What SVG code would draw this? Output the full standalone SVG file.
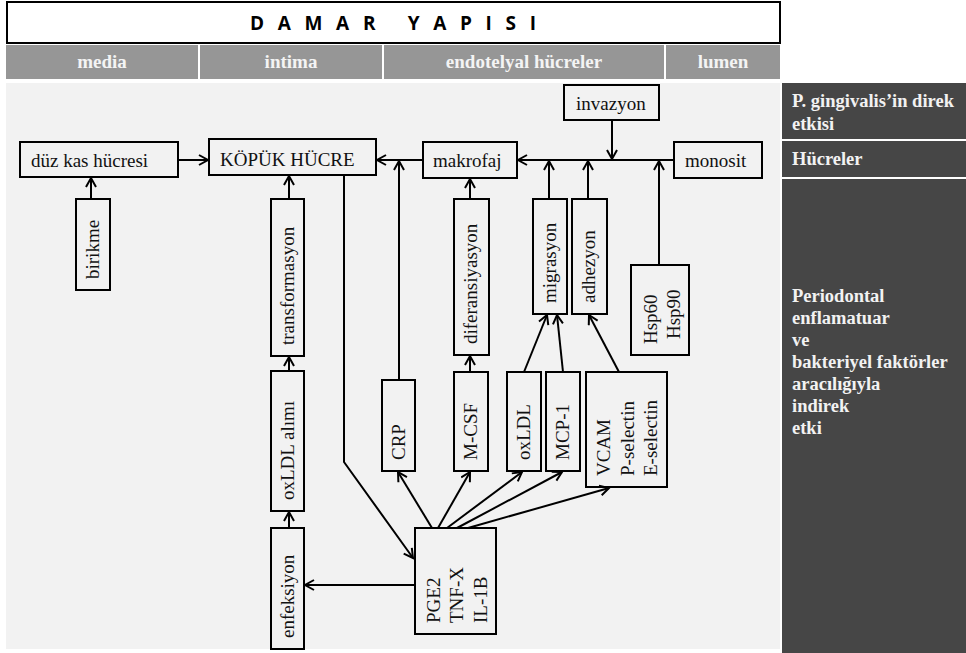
<svg xmlns="http://www.w3.org/2000/svg" width="966" height="653" viewBox="0 0 966 653">
<defs>
<marker id="ah" markerUnits="userSpaceOnUse" markerWidth="14" markerHeight="14" refX="10" refY="6" orient="auto">
<path d="M1,1 L10,6 L1,11" fill="none" stroke="#000" stroke-width="2"/>
</marker>
</defs>
<style>
.box{fill:none;stroke:#000;stroke-width:2}
.lbl{font-family:"Liberation Serif","Times New Roman",serif;font-size:19px;fill:#111}
.hdr{font-family:"Liberation Serif","Times New Roman",serif;font-size:19px;font-weight:bold;fill:#f4f4f4;text-anchor:middle}
.side{font-family:"Liberation Serif","Times New Roman",serif;font-size:18.5px;font-weight:bold;fill:#f2f2f2}
.conn line,.conn polyline{stroke:#000;stroke-width:2;fill:none}
.arr{marker-end:url(#ah)}
</style>
<rect width="966" height="653" fill="#fff"/>
<g id="title">
<rect x="7" y="2" width="773" height="41" fill="#fff" stroke="#000" stroke-width="2"/>
<text x="393" y="30" text-anchor="middle" textLength="286" lengthAdjust="spacing" style="font-family:'Open Sans',sans-serif;font-size:19px;font-weight:bold;white-space:pre" fill="#000">D A M A R   Y A P I S I</text>
</g>
<g id="header">
<rect x="6" y="45" width="192" height="34" fill="#969696"/>
<rect x="200" y="45" width="182" height="34" fill="#969696"/>
<rect x="384" y="45" width="280" height="34" fill="#969696"/>
<rect x="666" y="45" width="114" height="34" fill="#969696"/>
<text class="hdr" x="102" y="68">media</text>
<text class="hdr" x="291" y="68">intima</text>
<text class="hdr" x="524" y="68">endotelyal hücreler</text>
<text class="hdr" x="723" y="68">lumen</text>
</g>
<rect id="panel" x="6" y="83" width="774" height="566" fill="#f2f2f2"/>
<g id="side">
<rect x="782" y="83" width="184" height="56" fill="#464646"/>
<rect x="782" y="141" width="184" height="36" fill="#464646"/>
<rect x="782" y="179" width="184" height="474" fill="#464646"/>
<text class="side" x="792" y="107">P. gingivalis’in direk</text>
<text class="side" x="792" y="130">etkisi</text>
<text class="side" x="792" y="165">Hücreler</text>
<text class="side" x="792" y="302">Periodontal</text>
<text class="side" x="792" y="324">enflamatuar</text>
<text class="side" x="792" y="346">ve</text>
<text class="side" x="792" y="368">bakteriyel faktörler</text>
<text class="side" x="792" y="390">aracılığıyla</text>
<text class="side" x="792" y="412">indirek</text>
<text class="side" x="792" y="434">etki</text>
</g>
<g id="n-duzkas"><rect class="box" x="20" y="142" width="158" height="35"/><text class="lbl" x="31" y="167">düz kas hücresi</text></g>
<g id="n-kopuk"><rect class="box" x="209" y="139" width="167" height="36"/><text class="lbl" x="220" y="166">KÖPÜK HÜCRE</text></g>
<g id="n-makrofaj"><rect class="box" x="423" y="142" width="94" height="36"/><text class="lbl" x="433" y="167">makrofaj</text></g>
<g id="n-invazyon"><rect class="box" x="564" y="85" width="95" height="35"/><text class="lbl" x="576" y="110">invazyon</text></g>
<g id="n-monosit"><rect class="box" x="674" y="142" width="88" height="36"/><text class="lbl" x="685" y="167">monosit</text></g>
<g id="n-birikme"><rect class="box" x="76" y="199" width="34" height="91"/><text class="lbl" transform="translate(99,279) rotate(-90)">birikme</text></g>
<g id="n-transformasyon"><rect class="box" x="271" y="199" width="33" height="157"/><text class="lbl" transform="translate(294,345) rotate(-90)">transformasyon</text></g>
<g id="n-oxldlalimi"><rect class="box" x="271" y="371" width="33" height="140"/><text class="lbl" transform="translate(294,500) rotate(-90)">oxLDL alımı</text></g>
<g id="n-enfeksiyon"><rect class="box" x="271" y="528" width="33" height="121"/><text class="lbl" transform="translate(294,638) rotate(-90)">enfeksiyon</text></g>
<g id="n-crp"><rect class="box" x="382" y="380" width="33" height="91"/><text class="lbl" transform="translate(405,460) rotate(-90)">CRP</text></g>
<g id="n-mcsf"><rect class="box" x="454" y="372" width="34" height="99"/><text class="lbl" transform="translate(477,460) rotate(-90)">M-CSF</text></g>
<g id="n-oxldl"><rect class="box" x="507" y="372" width="34" height="99"/><text class="lbl" transform="translate(530,460) rotate(-90)">oxLDL</text></g>
<g id="n-mcp1"><rect class="box" x="546" y="372" width="34" height="99"/><text class="lbl" transform="translate(569,460) rotate(-90)">MCP-1</text></g>
<g id="n-vcam"><rect class="box" x="586" y="372" width="81" height="115"/>
<text class="lbl" transform="translate(610,476) rotate(-90)">VCAM</text>
<text class="lbl" transform="translate(634,476) rotate(-90)">P-selectin</text>
<text class="lbl" transform="translate(657,476) rotate(-90)">E-selectin</text></g>
<g id="n-diferansiyasyon"><rect class="box" x="454" y="199" width="35" height="156"/><text class="lbl" transform="translate(477,344) rotate(-90)">diferansiyasyon</text></g>
<g id="n-migrasyon"><rect class="box" x="533" y="199" width="34" height="115"/><text class="lbl" transform="translate(556,303) rotate(-90)">migrasyon</text></g>
<g id="n-adhezyon"><rect class="box" x="572" y="199" width="35" height="115"/><text class="lbl" transform="translate(595,303) rotate(-90)">adhezyon</text></g>
<g id="n-hsp"><rect class="box" x="631" y="265" width="58" height="90"/>
<text class="lbl" transform="translate(657,344) rotate(-90)">Hsp60</text>
<text class="lbl" transform="translate(680,339) rotate(-90)">Hsp90</text></g>
<g id="n-pge2"><rect class="box" x="415" y="528" width="81" height="106"/>
<text class="lbl" transform="translate(440,623) rotate(-90)">PGE2</text>
<text class="lbl" transform="translate(463,623) rotate(-90)">TNF-X</text>
<text class="lbl" transform="translate(487,623) rotate(-90)">IL-1B</text></g>
<g id="connectors" class="conn">
<line class="arr" x1="178" y1="160" x2="208" y2="160"/>
<line class="arr" x1="91" y1="199" x2="91" y2="178"/>
<line class="arr" x1="289" y1="199" x2="289" y2="176"/>
<line class="arr" x1="289" y1="371" x2="289" y2="357"/>
<line class="arr" x1="289" y1="528" x2="289" y2="512"/>
<polyline class="arr" points="344,175 344,462 413,558"/>
<line class="arr" x1="415" y1="585" x2="305" y2="585"/>
<line class="arr" x1="423" y1="160" x2="377" y2="160"/>
<line class="arr" x1="399" y1="380" x2="399" y2="161"/>
<line class="arr" x1="470" y1="199" x2="470" y2="179"/>
<line class="arr" x1="470" y1="372" x2="470" y2="356"/>
<line class="arr" x1="674" y1="160" x2="518" y2="160"/>
<line class="arr" x1="612" y1="120" x2="612" y2="159"/>
<line class="arr" x1="549" y1="199" x2="549" y2="161"/>
<line class="arr" x1="588" y1="199" x2="588" y2="161"/>
<line class="arr" x1="659" y1="265" x2="659" y2="161"/>
<line class="arr" x1="432" y1="528" x2="398" y2="472"/>
<line class="arr" x1="438" y1="528" x2="470" y2="472"/>
<line class="arr" x1="447" y1="528" x2="522" y2="472"/>
<line class="arr" x1="457" y1="528" x2="562" y2="472"/>
<line class="arr" x1="468" y1="528" x2="609" y2="488"/>
<line class="arr" x1="524" y1="372" x2="547" y2="315"/>
<line class="arr" x1="563" y1="372" x2="557" y2="315"/>
<line class="arr" x1="619" y1="372" x2="589" y2="315"/>
</g>
</svg>
